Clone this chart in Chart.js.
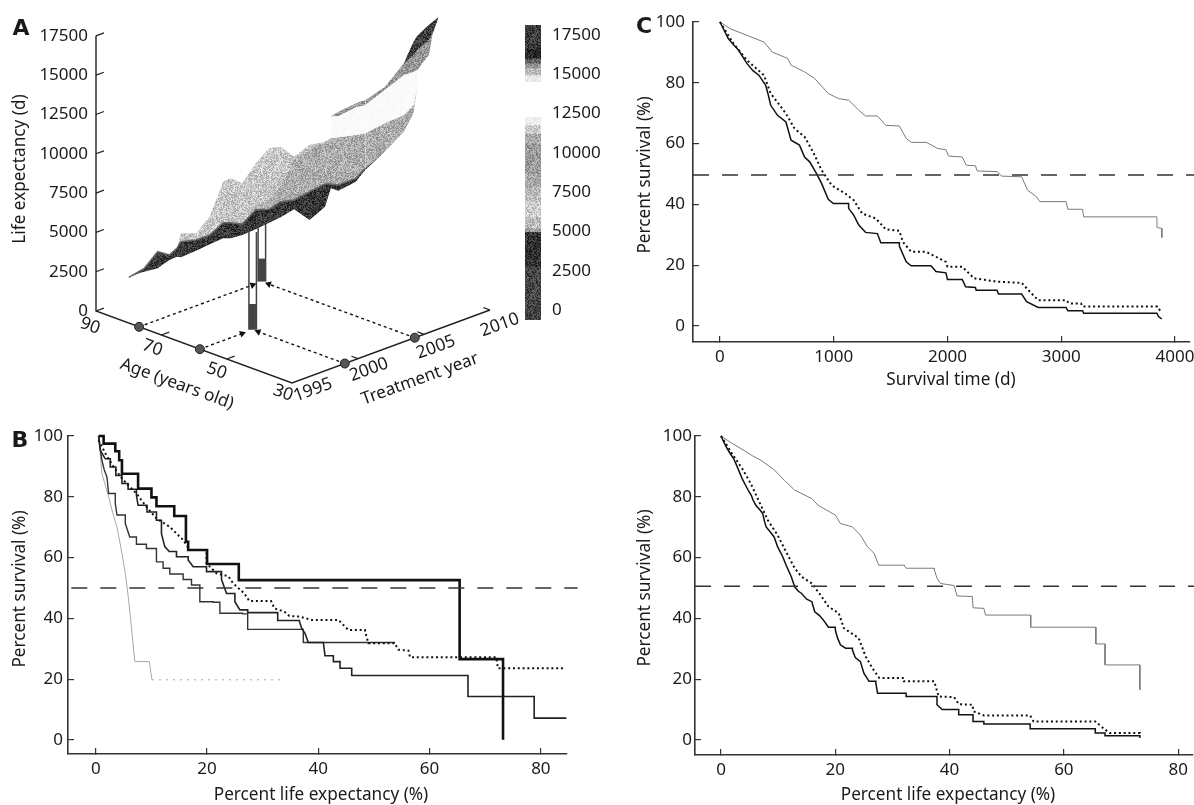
<!DOCTYPE html>
<html>
<head>
<meta charset="utf-8">
<style>
  html, body { margin: 0; padding: 0; background: #fff; overflow: hidden; }
  canvas { position: absolute; left: 0; top: 0; }
</style>
<script src="https://cdn.jsdelivr.net/npm/chart.js@4/dist/chart.umd.min.js"></script>
</head>
<body>
<canvas id="surfaceChart" width="1194" height="805"></canvas>
<canvas id="colorbarChart" width="1194" height="805"></canvas>
<canvas id="chartB" width="1194" height="805"></canvas>
<canvas id="chartC" width="1194" height="805"></canvas>
<canvas id="chartD" width="1194" height="805"></canvas>
<script>
// panel A: ticks
const lifeTicks = [0, 2500, 5000, 7500, 10000, 12500, 15000, 17500];
const ageTicks = [90, 70, 50, 30];
const yearTicks = [1995, 2000, 2005, 2010];

// panel A: surface read along the base diagonal of the box
const surfaceYears = [1996.25, 1996.69, 1996.84, 1997.35, 1997.79, 1998.08, 1998.23, 1998.81, 1999.33, 1999.84, 2000.13, 2000.57, 2001.08, 2001.59, 2002.03, 2002.54, 2003.13, 2003.72, 2003.94, 2004.23, 2004.89, 2005.25, 2005.99, 2006.72, 2007.09, 2007.23, 2007.67, 2007.82, 2008.04];
const surfaceLow = [2141, 2438, 2502, 2714, 3244, 3456, 3413, 3837, 4240, 4622, 4622, 4834, 5194, 5618, 5957, 6466, 5788, 6636, 7802, 7653, 8226, 8968, 10134, 11406, 12572, 14268, null, null, null];
const surfaceDarkTop = [2141, 2565, 2714, 3774, 3562, 3986, 4410, 4516, 4834, 5618, 5618, 5533, 6424, 6466, 6954, 7060, 7590, 8077, 8077, 8014, 8438, 9074, 10134, 11406, 12572, 14268, null, null, null];
const surfaceLightTop = [2141, 2565, 2714, 3774, 3562, 3986, 4940, 4940, 6000, 8226, 8438, 8120, 9392, 10346, 10452, 9816, 10558, 10770, null, null, null, null, null, null, null, null, null, null, null];
const surfaceMidTop = [null, null, null, null, null, null, null, null, null, null, null, 5533, 6636, 7060, 7908, 9604, 10240, 10770, 10982, 11045, 11194, 11300, 11936, 12466, 13102, 14268, null, null, null];
const surfacePaleTop = [null, null, null, null, null, null, null, null, null, null, null, null, null, null, null, null, null, null, 12380, 12402, 12953, 13102, 14056, 15010, 15222, 15328, 16282, 17660, 18677];
const surfaceGreyTop = [null, null, null, null, null, null, null, null, null, null, null, null, null, null, null, null, null, null, 12380, 12678, 13208, 13420, 14225, 15752, 17130, 17490, 18190, 18402, 18677];
const surfaceCrownLow = [null, null, null, null, null, null, null, null, null, null, null, null, null, null, null, null, null, null, null, null, null, null, null, 15752, 16282, 16600, 17236, 17660, 18677];

// panel A: the two worked examples
const exampleAges = [58.2, 76.8];
const exampleYears = [1999, 2004.3];
const exampleDarkTop = [1634, 1463];
const exampleTop = [6214, 3689];

// panel A: colour key
const colorbarEdges = [18126, 16642, 16006, 15688, 15370, 14946, 14522, 12296, 11766, 11236, 10600, 8692, 7844, 6996, 5936, 5194, 4982, 2756, -636];
const colorbarShades = [58, 42, 102, 153, 187, 232, 255, 238, 204, 170, 153, 170, 187, 204, 187, 153, 50, 68];

// panel B
const bThickX = [0.5, 1.4, 3.5, 4.2, 4.7, 7.6, 10, 10.9, 14.1, 16.2, 16.6, 20, 25.7, 65.4, 73.2];
const bThickY = [100, 97.5, 95, 92, 87.6, 82.7, 79.8, 76.9, 73.7, 65.2, 62.5, 57.9, 52.6, 26.6, 0.1];
const bDotX = [0.5, 1.8, 3.2, 4.7, 6, 7.3, 9.1, 10.9, 13.3, 15.7, 16.9, 19.9, 21.7, 23.8, 24.7, 26.7, 27.6, 31.5, 32.1, 33.9, 34.8, 36.6, 38.8, 43.6, 45.4, 48.4, 49, 53.8, 54.4, 56.2, 56.5, 72, 72.3, 84];
const bDotY = [98.6, 94, 89.8, 86, 83.5, 81.1, 76.7, 72.9, 70.1, 65.8, 62.5, 58.1, 54.8, 53.9, 51.5, 48.2, 45.7, 45.7, 43.3, 42.2, 40.8, 40.6, 39.5, 39.5, 36.2, 35.7, 31.8, 31.6, 29.7, 29.4, 27.2, 27, 23.6, 23.4];
const bMidX = [0.5, 0.8, 1.7, 2.6, 3.6, 4.7, 5.8, 7.3, 7.6, 9.2, 10.9, 11.8, 12.4, 13.2, 14.5, 16.6, 17.5, 19.9, 22.6, 23.5, 25, 25.9, 27.3, 31.8, 32.7, 36.6, 37, 37.6, 38.2, 40.9, 41.2, 42.7, 43.9, 46, 66.9, 78.8, 84.6];
const bMidY = [100, 95.3, 92.5, 89.8, 87, 84.4, 82.5, 80.5, 77.2, 75, 72.3, 67.9, 63.6, 62, 60.3, 59.2, 57, 55.4, 52.8, 48.2, 45.5, 42.8, 41.9, 41.9, 39.3, 39, 36.8, 35.1, 32.1, 32.1, 27.7, 25.8, 23.6, 21.2, 14.3, 7.2, 7.2];
const bLowX = [0.5, 0.8, 1.1, 1.5, 2, 2.3, 3.5, 3.8, 5.3, 6.1, 7.3, 9.1, 10.9, 12.1, 13.3, 15.7, 17.2, 18.7, 21.1, 22.3, 26.4, 27.3, 37.3, 53.8];
const bLowY = [100, 96, 92, 89, 86.5, 81.1, 77.8, 74, 71.2, 66.8, 64.4, 63, 58.6, 56.5, 54.6, 52.8, 51, 45.5, 45.3, 41.7, 41.5, 36.4, 32.1, 32.1];
const bGreyX = [0.5, 1.1, 2.3, 3, 3.8, 4.7, 5.3, 5.9, 6.4, 7, 9.6, 10.1, 33.6];
const bGreyY = [100, 87.6, 80, 75, 70.1, 61.4, 54.8, 46.1, 37.3, 25.8, 25.8, 19.8, 19.6];

// panel C
const cSolidX = [0, 74, 120, 164, 238, 290, 342, 402, 425, 446, 506, 580, 625, 699, 744, 789, 848, 893, 952, 997, 1131, 1176, 1220, 1280, 1384, 1414, 1577, 1637, 1681, 1855, 1899, 1986, 2000, 2130, 2159, 2246, 2252, 2435, 2449, 2652, 2696, 2797, 3043, 3058, 3188, 3197, 3841, 3855, 3884];
const cSolidY = [100, 94.5, 92.5, 90.7, 86.3, 84, 82.5, 79.2, 76, 72.6, 69.3, 67.1, 61.1, 59.5, 55.6, 54, 50.2, 46.9, 41.7, 40.3, 38.7, 36.5, 33.2, 30.8, 30.4, 27.4, 26.3, 21.1, 19.8, 19.8, 17.9, 17.5, 15.3, 15.3, 12.9, 12.7, 11.8, 11.8, 10.5, 10.5, 8, 6.1, 6.1, 5, 5, 4.2, 4.2, 3.1, 2.3];
const cDotX = [0, 119, 238, 387, 446, 580, 655, 744, 818, 893, 982, 1101, 1176, 1250, 1369, 1458, 1577, 1607, 1681, 1812, 1986, 2000, 2130, 2232, 2435, 2652, 2739, 2797, 3043, 3072, 3174, 3188, 3841, 3884];
const cDotY = [100, 92.9, 87.4, 82.5, 76.5, 69.9, 65, 62.2, 57.3, 51.3, 46.3, 43.6, 41.4, 37, 35.4, 31.8, 31.3, 27.7, 24.4, 24.4, 21.1, 19.5, 19.5, 15.7, 14.6, 14.2, 10.7, 8.5, 8.5, 7.4, 7.4, 6.4, 6.1, 4.7];
const cGreyX = [0, 89, 238, 387, 461, 595, 625, 744, 833, 952, 1042, 1131, 1220, 1280, 1384, 1458, 1577, 1637, 1682, 1815, 1913, 1986, 2009, 2130, 2165, 2246, 2261, 2435, 2478, 2652, 2704, 2783, 2812, 3043, 3058, 3188, 3197, 3841, 3842, 3884, 3885];
const cGreyY = [100, 97.8, 95.6, 93.4, 90.1, 88, 85.8, 83.6, 81.4, 76.5, 74.8, 74.3, 71, 69.1, 69.1, 66, 65.8, 61.7, 60.4, 60.4, 58.4, 58, 55.9, 55.6, 52.9, 52.7, 51, 50.8, 49.3, 49.1, 44.7, 42.5, 40.9, 40.9, 38.4, 38.4, 35.9, 35.9, 32.4, 32.1, 29.1];

// panel D
const dSolidX = [0, 0.5, 1.1, 1.7, 2.2, 2.7, 3.1, 3.7, 4.3, 4.8, 5.3, 5.6, 6.1, 6.9, 7.3, 7.6, 7.9, 8.6, 9.3, 9.9, 10.8, 11.4, 12.3, 12.9, 13.5, 14.1, 15, 15.9, 16.4, 17.2, 17.9, 18.8, 20, 20.4, 20.9, 21.8, 23, 23.5, 24.4, 25, 25.5, 25.9, 27.1, 27.4, 32.4, 37.8, 38.7, 41.6, 44.1, 46, 54.1, 65.5, 67.2, 73.3];
const dSolidY = [100, 98, 95.8, 94, 92.6, 90.5, 88.7, 86, 83.8, 82, 80.5, 79, 77.2, 75.5, 74.5, 72, 70.1, 68.5, 66.8, 63.6, 60.3, 57.5, 53.7, 50.4, 49, 48.2, 46.3, 45.5, 42.2, 41, 39.5, 37.1, 36.2, 33.5, 31.3, 30.2, 29.6, 27.1, 25.8, 22, 20.5, 19.3, 18.7, 15.4, 14.3, 11.6, 10, 8.3, 6.1, 5.3, 3.7, 2.3, 1.4, 0.7];
const dDotX = [0, 2, 3.7, 5.2, 6.7, 8.2, 9.9, 11.4, 12.9, 14.1, 15.9, 17.6, 18.8, 20.6, 21.5, 24.1, 25.3, 26.5, 27.7, 32, 37.3, 38.1, 40.8, 41.6, 44, 44.2, 46, 54.1, 54.7, 65.5, 66.9, 68, 73.3];
const dDotY = [100, 94, 89.3, 84.4, 78.3, 72.3, 67.4, 61.9, 56.5, 53.7, 51.5, 47.2, 43.9, 41.7, 36.8, 33.5, 27.5, 23.6, 20.4, 19.3, 19.3, 14.3, 14.1, 11.8, 11.6, 9.4, 8.1, 8.1, 6.1, 6.1, 3.9, 2.3, 2.1];
const dGreyX = [0, 2, 4, 5.5, 7, 9.3, 11.1, 12.9, 15.9, 17, 20, 20.9, 23, 24.4, 25.6, 26.8, 27.6, 32.1, 32.4, 37.3, 37.8, 38.4, 40.8, 41.3, 44, 44.1, 46, 46.3, 54.2, 65.6, 67.2, 67.21, 73.3, 73.31];
const dGreyY = [100, 97.5, 95.3, 93.5, 92, 88.9, 85.4, 82.2, 79.4, 77.2, 74, 71.2, 70.1, 67.4, 63.6, 61.4, 57.5, 57.3, 56.5, 56.2, 53.2, 51.5, 50.8, 47.4, 47.2, 43.5, 43.3, 41.1, 37.1, 31.6, 31.6, 24.7, 24.7, 16.5];

// median line on each survival panel
const medianB = [50, 50];
const medianC = [49.7, 49.7];
const medianD = [50.6, 50.6];

const survivalTicks = [0, 20, 40, 60, 80, 100];
const percentTicks = [0, 20, 40, 60, 80];
const dayTicks = [0, 1000, 2000, 3000, 4000];

const W = 1194, H = 805;
const TICK_FONT = { family: '"Noto Sans"', size: 17 };
const TITLE_FONT = '17.2px "Noto Sans"';
const LETTER_FONT = 'bold 22px "DejaVu Sans"';
const INK = "#1a1a1a";

Chart.defaults.animation = false;
Chart.defaults.responsive = false;
Chart.defaults.devicePixelRatio = 1;
Chart.defaults.plugins.legend.display = false;
Chart.defaults.plugins.tooltip.enabled = false;

function xy(xs, ys) {
  return xs.map((x, i) => ({ x: x, y: ys[i] }));
}

// Kaplan-Meier drop: flat run then fall, only where the run is long enough to see
function staircase(xs, ys, gap) {
  const pts = [];
  xs.forEach((x, i) => {
    if (i > 0 && x - xs[i - 1] >= gap) pts.push({ x: x, y: ys[i - 1] });
    pts.push({ x: x, y: ys[i] });
  });
  return pts;
}

// speckled grey, the source figure is a scan
function stipple(grey) {
  const tile = document.createElement("canvas");
  tile.width = tile.height = 64;
  const c = tile.getContext("2d");
  const img = c.createImageData(64, 64);
  const spread = grey > 252 ? 0 : grey > 245 ? 10 : grey > 225 ? 30 : 80;
  for (let i = 0; i < 64 * 64; i++) {
    const h = Math.sin(i * 12.9898 + (i % 64) * 78.233) * 43758.5453;
    const v = grey + (h - Math.floor(h) - 0.5) * spread;
    img.data[i * 4] = img.data[i * 4 + 1] = img.data[i * 4 + 2] = v;
    img.data[i * 4 + 3] = 255;
  }
  c.putImageData(img, 0, 0);
  return c.createPattern(tile, "repeat");
}

function pageText(items) {
  return {
    id: "pageText",
    afterDraw(chart) {
      const ctx = chart.ctx;
      items(chart).forEach((t) => {
        ctx.save();
        ctx.translate(t.x, t.y);
        ctx.rotate(((t.rot || 0) * Math.PI) / 180);
        ctx.font = t.font || TITLE_FONT;
        ctx.fillStyle = INK;
        ctx.textAlign = "center";
        ctx.textBaseline = "middle";
        ctx.fillText(t.text, 0, 0);
        ctx.restore();
      });
    },
  };
}

function solidLine(xs, ys, gap, color, width) {
  return { data: staircase(xs, ys, gap), borderColor: color, borderWidth: width, pointRadius: 0, clip: false, fill: false };
}

function dottedLine(xs, ys, gap) {
  const line = solidLine(xs, ys, gap, "#111", 2);
  line.borderDash = [2, 2.8];
  return line;
}

function medianLine(lo, hi, ys) {
  return { data: xy([lo, hi], ys), borderColor: "#333", borderWidth: 1.5, borderDash: [16, 13], pointRadius: 0, clip: false, fill: false };
}

// survival panels share everything but box, ticks and curves
function survivalChart(id, box, xRange, xTicks, yMin, datasets, texts) {
  const axis = { drawOnChartArea: false, tickLength: -6, color: "#333", lineWidth: 1.2 };
  return new Chart(document.querySelector(id), {
    type: "line",
    data: { datasets: datasets },
    options: {
      layout: { padding: { left: box.left - 60, right: W - box.right, top: box.top, bottom: H - box.bottom - 40 } },
      scales: {
        x: {
          type: "linear", min: xRange[0], max: xRange[1],
          afterBuildTicks: (s) => { s.ticks = xTicks.map((v) => ({ value: v })); },
          afterFit: (s) => { s.height = 40; s.paddingLeft = 0; s.paddingRight = 0; },
          grid: axis, border: { color: "#333", width: 1.6 },
          ticks: { autoSkip: false, maxRotation: 0, padding: 11, color: INK, font: TICK_FONT, callback: (v) => String(v) },
        },
        y: {
          min: yMin, max: 100,
          afterBuildTicks: (s) => { s.ticks = survivalTicks.map((v) => ({ value: v })); },
          afterFit: (s) => { s.width = 60; s.paddingTop = 0; s.paddingBottom = 0; },
          grid: axis, border: { color: "#333", width: 1.6 },
          ticks: { autoSkip: false, padding: box.labelGap, color: INK, font: TICK_FONT, callback: (v) => String(v) },
        },
      },
    },
    plugins: [pageText(() => texts)],
  });
}

function renderPanelB() {
  const grey = solidLine(bGreyX, bGreyY, 2, "#a8a8a8", 1);
  grey.segment = { borderDash: (c) => (c.p0.parsed.x > 10 ? [2, 5] : undefined) };
  survivalChart("#chartB", { left: 68, right: 567, top: 436, bottom: 754, labelGap: 11 }, [-5, 84.7], percentTicks, -4.6, [
    medianLine(-4.4, 86.6, medianB),
    solidLine(bThickX, bThickY, 0, "#111", 2.6),
    dottedLine(bDotX, bDotY, 3),
    solidLine(bMidX, bMidY, 0.9, "#222", 1.6),
    solidLine(bLowX, bLowY, 0.9, "#333", 1.4),
    grey,
  ], [
    { text: "B", x: 20, y: 441, font: LETTER_FONT },
    { text: "Percent survival (%)", x: 20, y: 589, rot: -90 },
    { text: "Percent life expectancy (%)", x: 321, y: 795 },
  ]);
}

function renderPanelC() {
  survivalChart("#chartC", { left: 693, right: 1190, top: 22, bottom: 342, labelGap: 14 }, [-237, 4132], dayTicks, -5.26, [
    medianLine(-237, 4170, medianC),
    solidLine(cSolidX, cSolidY, 125, "#111", 1.5),
    dottedLine(cDotX, cDotY, 250),
    solidLine(cGreyX, cGreyY, 200, "#7a7a7a", 1),
  ], [
    { text: "C", x: 644, y: 27, font: LETTER_FONT },
    { text: "Percent survival (%)", x: 645, y: 175, rot: -90 },
    { text: "Survival time (d)", x: 951, y: 380 },
  ]);
}

function renderPanelD() {
  survivalChart("#chartD", { left: 695, right: 1193, top: 436, bottom: 755, labelGap: 9 }, [-4.55, 82.6], percentTicks, -4.93, [
    medianLine(-4.55, 83, medianD),
    solidLine(dSolidX, dSolidY, 1, "#111", 1.5),
    dottedLine(dDotX, dDotY, 2.8),
    solidLine(dGreyX, dGreyY, 3.5, "#7a7a7a", 1),
  ], [
    { text: "Percent survival (%)", x: 645, y: 588, rot: -90 },
    { text: "Percent life expectancy (%)", x: 948, y: 795 },
  ]);
}

// oblique view of the age / year / days box onto the chart plane
function project(age, year, days) {
  const a = 90 - age;
  const t = year - 1995;
  return { x: 1995 + a * 0.12436 + t * 0.5025, y: days - a * 76.3 + t * 309.5 };
}

function rule(points, color, width, dash, order) {
  return { data: points, borderColor: color, borderWidth: width, borderDash: dash || [], pointRadius: 0, clip: false, fill: false, order: order || 0 };
}

function arrow(from, to, heading) {
  return {
    data: [from, to], borderColor: "#111", borderWidth: 1.4, borderDash: [3, 3], clip: false, fill: false, order: 0,
    pointStyle: "triangle", pointRadius: [0, 4], pointRotation: [0, heading], pointBackgroundColor: "#111", pointBorderWidth: 0,
  };
}

function renderPanelA() {
  const layers = [
    [surfaceDarkTop, surfaceLightTop, 198, 0],
    [surfaceDarkTop, surfaceMidTop, 172, 0],
    [surfaceMidTop, surfacePaleTop, 250, 0],
    [surfacePaleTop, surfaceGreyTop, 150, 0],
    [surfaceCrownLow, surfaceGreyTop, 62, 0],
    [surfaceLow, surfaceDarkTop, 55, 1.5],
  ];
  const datasets = [];
  layers.forEach((layer, n) => {
    const base = datasets.length;
    datasets.push({ data: xy(surfaceYears, layer[0]), borderWidth: 0, pointRadius: 0, fill: false, order: 100 - n });
    datasets.push({
      data: xy(surfaceYears, layer[1]), borderWidth: layer[3], borderColor: "#666", pointRadius: 0,
      backgroundColor: stipple(layer[2]), fill: { target: base }, order: 100 - n,
      // soft rim only where the dark band has some width
      segment: { borderColor: (c) => (c.p0.parsed.x > 2005.2 ? "transparent" : undefined) },
    });
  });

  // pillars sit behind the surface
  exampleAges.forEach((age, i) => {
    const year = exampleYears[i];
    const foot = project(age, year, 0);
    const dark = project(age, year, exampleDarkTop[i]);
    const top = project(age, year, exampleTop[i]);
    datasets.push(rule([foot, top], "#444", 9, null, 120));
    datasets.push(rule([dark, top], "#fff", 6, null, 119));
  });

  // box edges and tick marks
  const corner = project(30, 1995, 0);
  datasets.push(rule([project(90, 1995, 17500), project(90, 1995, 0), corner, project(30, 2010, 0)], "#222", 1.4));
  lifeTicks.forEach((v) => datasets.push(rule([project(90, 1995, v), project(90, 1995.6, v)], "#222", 1.2)));
  [70, 50].forEach((v) => datasets.push(rule([project(v, 1995, 0), project(v, 1995.6, 0)], "#222", 1.2)));
  [2000, 2005, 2010].forEach((v) => datasets.push(rule([project(30, v, 0), project(32, v, 0)], "#222", 1.2)));

  // dashed guides from the picked age and year to the pillars
  const heading = 70;
  datasets.push(arrow(project(exampleAges[0], 1995, 0), project(exampleAges[0], 1998.2, 0), heading));
  datasets.push(arrow(project(exampleAges[1], 1995, 0), project(exampleAges[1], 2003.6, 0), heading));
  datasets.push(arrow(project(30, exampleYears[0], 0), project(56.5, exampleYears[0], 0), -heading));
  datasets.push(arrow(project(30, exampleYears[1], 0), project(74.7, exampleYears[1], 0), -heading));
  datasets.push({
    type: "scatter",
    data: [project(exampleAges[1], 1995, 0), project(exampleAges[0], 1995, 0), project(30, exampleYears[0], 0), project(30, exampleYears[1], 0)],
    pointRadius: 4.5, pointBackgroundColor: "#555", pointBorderColor: "#222", pointBorderWidth: 1, clip: false, order: -1,
  });

  const ageNudge = [[-6, 15], [-9, 13], [-10, 12], [-9, 10]];
  const yearNudge = [[21, 7], [11, 11], [12, 13], [10, 15]];

  new Chart(document.querySelector("#surfaceChart"), {
    type: "line",
    data: { datasets: datasets },
    options: {
      layout: { padding: { left: 0, right: W - 490, top: 10, bottom: H - 390 } },
      scales: {
        x: { type: "linear", display: false, min: 1995, max: 2010 },
        y: {
          min: -5024, max: 19144,
          afterBuildTicks: (s) => { s.ticks = lifeTicks.map((v) => ({ value: v })); },
          afterFit: (s) => { s.width = 96; s.paddingTop = 0; s.paddingBottom = 0; },
          grid: { display: false }, border: { display: false },
          ticks: { autoSkip: false, padding: 0, color: INK, font: TICK_FONT, callback: (v) => String(v) },
        },
      },
    },
    plugins: [pageText((chart) => {
      const sx = chart.scales.x, sy = chart.scales.y;
      const at = (p, n) => ({ x: sx.getPixelForValue(p.x) + n[0], y: sy.getPixelForValue(p.y) + n[1] });
      const items = [
        { text: "A", x: 21, y: 29, font: LETTER_FONT },
        { text: "Life expectancy (d)", x: 20, y: 169, rot: -90 },
        { text: "Age (years old)", x: 177, y: 384, rot: 20 },
        { text: "Treatment year", x: 420, y: 379, rot: -20 },
      ];
      ageTicks.forEach((v, i) => items.push(Object.assign({ text: String(v), rot: 20, font: '17.5px "Noto Sans"' }, at(project(v, 1995, 0), ageNudge[i]))));
      yearTicks.forEach((v, i) => items.push(Object.assign({ text: String(v), rot: -20, font: '17.5px "Noto Sans"' }, at(project(30, v, 0), yearNudge[i]))));
      return items;
    })],
  });
}

function renderColorbar() {
  const datasets = colorbarShades.map((shade, i) => ({
    data: [[colorbarEdges[i + 1], colorbarEdges[i]]],
    backgroundColor: stipple(shade),
    borderWidth: 0,
    barPercentage: 1,
    categoryPercentage: 1,
  }));
  new Chart(document.querySelector("#colorbarChart"), {
    type: "bar",
    data: { labels: ["key"], datasets: datasets },
    options: {
      layout: { padding: { left: 525, right: W - 541 - 80, top: 25, bottom: H - 320 } },
      scales: {
        x: { stacked: true, display: false },
        y: {
          position: "right", min: -636, max: 18126,
          afterBuildTicks: (s) => { s.ticks = lifeTicks.map((v) => ({ value: v })); },
          afterFit: (s) => { s.width = 80; s.paddingTop = 0; s.paddingBottom = 0; },
          grid: { display: false }, border: { display: false },
          ticks: { autoSkip: false, padding: 3, color: INK, font: TICK_FONT, callback: (v) => String(v) },
        },
      },
    },
  });
}

renderPanelA();
renderColorbar();
renderPanelB();
renderPanelC();
renderPanelD();
</script>
</body>
</html>
